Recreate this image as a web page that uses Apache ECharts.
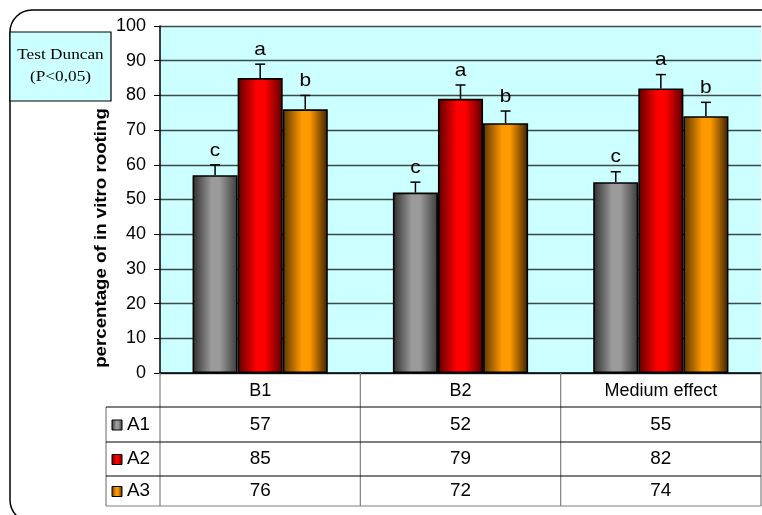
<!DOCTYPE html>
<html>
<head>
<meta charset="utf-8">
<script src="https://cdn.jsdelivr.net/npm/echarts@6/dist/echarts.min.js"></script>
<style>
html,body{margin:0;padding:0;background:#fff;}
#c{width:762px;height:515px;}
</style>
</head>
<body>
<div id="c"></div>
<script>
// ---- data ----
const categories = ['B1', 'B2', 'Medium effect'];
const seriesNames = ['A1', 'A2', 'A3'];
const valuesA1 = [57, 52, 55];
const valuesA2 = [85, 79, 82];
const valuesA3 = [76, 72, 74];
const errorsA1 = [3, 3, 3];
const errorsA2 = [4, 4, 4];
const errorsA3 = [4, 3.5, 4];
const lettersA1 = ['c', 'c', 'c'];
const lettersA2 = ['a', 'a', 'a'];
const lettersA3 = ['b', 'b', 'b'];
const yMin = 0, yMax = 100, yStep = 10;
const yTitle = 'percentage of in vitro rooting';
const noteLines = ['Test Duncan', '(P<0,05)'];

const FONT = 'Liberation Sans, Arial, sans-serif';
const SERIF = 'Liberation Serif, Times New Roman, serif';

function grad(dark1, bright, dark2) {
  return new echarts.graphic.LinearGradient(0, 0, 1, 0, [
    {offset: 0, color: dark1},
    {offset: 0.42, color: bright},
    {offset: 0.6, color: bright},
    {offset: 1, color: dark2}
  ]);
}
const fills = [
  () => grad('#2e2e2e', '#9b9b9b', '#3a3a3a'),
  () => grad('#5e0000', '#ff0000', '#5a0000'),
  () => grad('#5a3500', '#ff9900', '#3a2200')
];

const allValues = [valuesA1, valuesA2, valuesA3];
const allErrors = [errorsA1, errorsA2, errorsA3];
const allLetters = [lettersA1, lettersA2, lettersA3];

const chart = echarts.init(document.getElementById('c'), null, {renderer: 'canvas'});

const BAR_FRAC = 0.225;
function errorSeries(k) {
  return {
    type: 'custom',
    name: seriesNames[k] + ' err',
    z: 5,
    silent: true,
    encode: {x: 0, y: 1},
    data: categories.map((c, i) => [i, allValues[k][i], allErrors[k][i]]),
    renderItem: function (params, api) {
      const idx = api.value(0);
      const v = api.value(1);
      const e = api.value(2);
      const catW = api.size([1, 0])[0];
      const bw = catW * BAR_FRAC;
      const base = api.coord([idx, v]);
      const top = api.coord([idx, v + e]);
      const x = base[0] + (k - 1) * bw;
      const letter = allLetters[k][params.dataIndex];
      return {
        type: 'group',
        children: [
          {type: 'line', shape: {x1: x, y1: base[1], x2: x, y2: top[1]}, style: {stroke: '#000', lineWidth: 1.5}},
          {type: 'line', shape: {x1: x - 5, y1: top[1], x2: x + 5, y2: top[1]}, style: {stroke: '#000', lineWidth: 1.5}},
          {type: 'text', x: x, y: top[1] - 5, scaleX: 1.1, style: {text: letter, fill: '#000', font: '19px ' + FONT, textAlign: 'center', textVerticalAlign: 'bottom'}}
        ]
      };
    }
  };
}

const option = {
  animation: false,
  backgroundColor: '#fff',
  grid: {left: 160, right: 1, top: 26, bottom: 142, show: true, backgroundColor: '#ccffff', borderWidth: 0},
  xAxis: {
    type: 'category',
    data: categories,
    axisLine: {lineStyle: {color: '#000', width: 1.5}},
    axisTick: {show: false},
    axisLabel: {color: '#000', fontFamily: FONT, fontSize: 18, margin: 9, interval: 0}
  },
  yAxis: {
    type: 'value',
    min: yMin, max: yMax, interval: yStep,
    axisLine: {show: true, lineStyle: {color: '#000', width: 1.5}},
    axisTick: {show: true, length: 6, lineStyle: {color: '#000'}},
    axisLabel: {color: '#000', fontFamily: FONT, fontSize: 18, margin: 14},
    splitLine: {show: true, lineStyle: {color: '#3a4a4a', width: 1.3}}
  },
  series: [0, 1, 2].map(k => ({
    type: 'bar',
    name: seriesNames[k],
    data: allValues[k],
    barWidth: (BAR_FRAC * 100) + '%',
    barGap: '0%',
    itemStyle: {color: fills[k](), borderColor: '#000', borderWidth: 1.6}
  })).concat([0, 1, 2].map(errorSeries))
};
chart.setOption(option);

// ---- table, frame and notes ----
function buildGraphics() {
  const g = [];
  const yAxisBase = chart.convertToPixel({yAxisIndex: 0}, 0); // y of zero line
  const c0 = chart.convertToPixel({xAxisIndex: 0}, 0);
  const c1 = chart.convertToPixel({xAxisIndex: 0}, 1);
  const catW = c1 - c0;
  const leftEdge = c0 - catW / 2;
  const rightEdge = leftEdge + catW * categories.length;
  const rowLines = [yAxisBase + 34, yAxisBase + 69, yAxisBase + 103, yAxisBase + 133];
  const tableBottom = rowLines[rowLines.length - 1];
  const legendLeft = 106;

  // outer rounded frame
  g.push({type: 'rect', shape: {x: 10, y: 10, width: 775, height: 512, r: 22}, style: {fill: 'none', stroke: '#000', lineWidth: 1.5}, z: 0});

  // vertical lines in header + table
  for (let i = 0; i <= categories.length; i++) {
    const x = leftEdge + catW * i;
    g.push({type: 'line', shape: {x1: x, y1: yAxisBase, x2: x, y2: tableBottom}, style: {stroke: '#808080', lineWidth: 1.2}, z: 10});
  }
  g.push({type: 'line', shape: {x1: legendLeft, y1: rowLines[0], x2: legendLeft, y2: tableBottom}, style: {stroke: '#808080', lineWidth: 1.2}, z: 10});
  // horizontal lines
  for (let r = 0; r < seriesNames.length; r++) {
    const y = rowLines[r];
    g.push({type: 'line', shape: {x1: legendLeft, y1: y, x2: rightEdge, y2: y}, style: {stroke: '#000', lineWidth: 1.2}, z: 10});
  }
  g.push({type: 'line', shape: {x1: legendLeft, y1: tableBottom, x2: rightEdge, y2: tableBottom}, style: {stroke: '#808080', lineWidth: 1.2}, z: 10});

  // rows
  for (let r = 0; r < seriesNames.length; r++) {
    const cy = (rowLines[r] + rowLines[r + 1]) / 2 + 0.5;
    g.push({type: 'rect', shape: {x: legendLeft + 6, y: cy - 5, width: 10, height: 10}, style: {fill: fills[r](), stroke: '#000', lineWidth: 1}, z: 10});
    g.push({type: 'text', x: legendLeft + 21, y: cy, scaleX: 1.05, style: {text: seriesNames[r], font: '18px ' + FONT, fill: '#000', textAlign: 'left', textVerticalAlign: 'middle'}, z: 10});
    for (let i = 0; i < categories.length; i++) {
      const cx = chart.convertToPixel({xAxisIndex: 0}, i);
      g.push({type: 'text', x: cx, y: cy, scaleX: 1.05, style: {text: String(allValues[r][i]), font: '18px ' + FONT, fill: '#000', textAlign: 'center', textVerticalAlign: 'middle'}, z: 10});
    }
  }

  // Duncan note box
  g.push({type: 'rect', shape: {x: 10, y: 32, width: 101, height: 69}, style: {fill: '#ccffff', stroke: '#000', lineWidth: 1.2}, z: 10});
  g.push({type: 'text', x: 60.5, y: 55, scaleX: 1.15, style: {text: noteLines[0], font: '15px ' + SERIF, fill: '#000', textAlign: 'center', textVerticalAlign: 'middle'}, z: 11});
  g.push({type: 'text', x: 60.5, y: 77, scaleX: 1.15, style: {text: noteLines[1], font: '15px ' + SERIF, fill: '#000', textAlign: 'center', textVerticalAlign: 'middle'}, z: 11});

  // y-axis title
  g.push({type: 'text', x: 101, y: 238, rotation: Math.PI / 2, scaleX: 1.1, style: {text: yTitle, font: 'bold 17px ' + FONT, fill: '#000', textAlign: 'center', textVerticalAlign: 'middle'}, z: 11});
  return g;
}
chart.setOption({graphic: buildGraphics()});
</script>
</body>
</html>
